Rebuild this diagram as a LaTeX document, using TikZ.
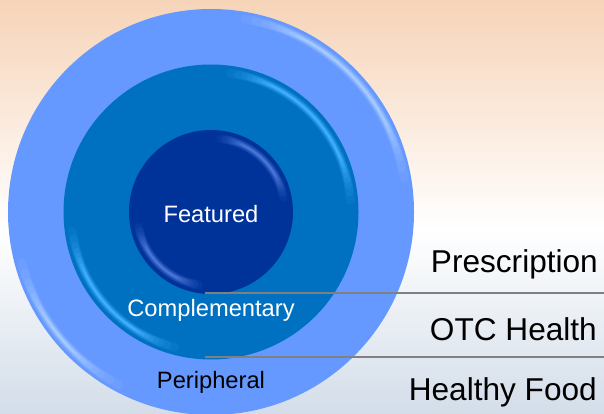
\documentclass[tikz,border=0pt]{standalone}
\usepackage{fontspec}
\setmainfont{Liberation Sans}
\usetikzlibrary{calc}

\definecolor{bgtop}{HTML}{F6D4B8}
\definecolor{bgbot}{HTML}{D3DDE9}
\definecolor{ringout}{HTML}{6699FF}
\definecolor{ringmid}{HTML}{0070C0}
\definecolor{ringin}{HTML}{003399}
\definecolor{glowout}{HTML}{A8CCFF}
\definecolor{glowmid}{HTML}{40B0FF}
\definecolor{glowin}{HTML}{4A78D8}
\definecolor{rule}{HTML}{808080}

\tikzset{
  ringlabel/.style={font=\fontsize{23.7}{28}\selectfont, inner sep=0pt, anchor=base},
  sidelabel/.style={font=\fontsize{31.6}{36}\selectfont, inner sep=0pt, anchor=base east, text=black},
  divider/.style={draw=rule, line width=2pt},
}

% soft highlight along part of a ring: nested opaque arcs, each one
% narrower, shorter and closer to the highlight colour than the last
% #1 centre, #2 radius, #3/#4 angles, #5 highlight colour, #6 base colour
\newcommand\rimglow[6]{%
  \foreach \w/\m/\s in {9/10/0, 8/20/3, 7/30/6, 6/40/8, 5/52/10, 4/64/12, 3/76/14, 2/88/16, 1.2/100/18}{%
    \draw[color=#5!\m!#6, line width=\w pt, line cap=round]
      ($(#1)+({#3+\s}:#2)$) arc[start angle=#3+\s, end angle=#4-\s, radius=#2];
  }%
}

\begin{document}
\begin{tikzpicture}[x=1pt, y=-1pt]
  \useasboundingbox (0,0) rectangle (604,414);
  \clip (0,0) rectangle (604,414);

  % background
  \shade[top color=bgtop, bottom color=white] (0,0) rectangle (604,230);
  \shade[top color=white, bottom color=bgbot] (0,230) rectangle (604,414);

  \coordinate (c) at (211,212);

  % outer ring
  \fill[ringout] (c) circle[radius=203];
  \rimglow{c}{196}{-80}{-10}{glowout}{ringout}
  \rimglow{c}{196}{118}{165}{glowout}{ringout}

  % middle ring
  \fill[ringmid] (c) circle[radius=147.5];
  \rimglow{c}{140}{-82}{-5}{glowmid}{ringmid}
  \rimglow{c}{140}{105}{172}{glowmid}{ringmid}

  % inner disc
  \fill[ringin] (c) circle[radius=82];
  \rimglow{c}{74}{-82}{-12}{glowin}{ringin}
  \rimglow{c}{74}{100}{168}{glowin}{ringin}

  % circle labels
  \node[ringlabel, text=white] (featured) at (211,222.7) {Featured};
  \node[ringlabel, text=white] (compl) at (211,316.7) {Complementary};
  \node[ringlabel, text=black] (periph) at (211,388.3) {Peripheral};

  % dividers
  \coordinate (d1a) at (205,293.3);
  \coordinate (d1b) at (604,293.3);
  \coordinate (d2a) at (205,357.3);
  \coordinate (d2b) at (604,357.3);
  \draw[divider] (d1a) -- (d1b);
  \draw[divider] (d2a) -- (d2b);

  % side labels
  \node[sidelabel] (presc) at (598,272) {Prescription};
  \node[sidelabel] (otc) at (597,340) {OTC Health};
  \node[sidelabel] (food) at (597,400) {Healthy Food};
\end{tikzpicture}
\end{document}
